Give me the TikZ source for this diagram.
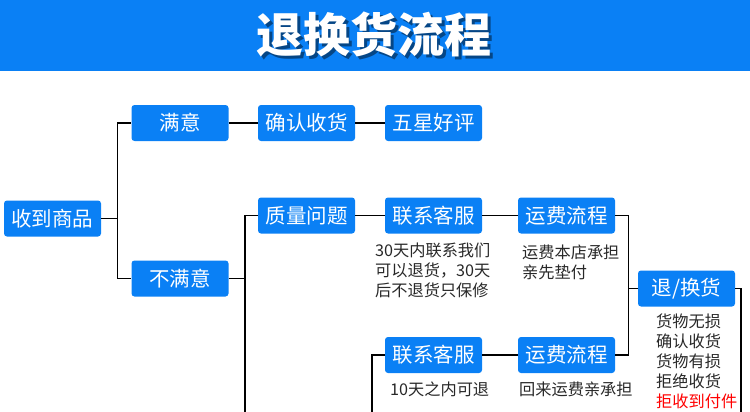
\documentclass[tikz,border=0pt]{standalone}
\usepackage{fontspec}
\newfontfamily\cjk{Noto Sans CJK SC}
\usetikzlibrary{positioning}
\definecolor{flowblue}{RGB}{10,128,245}
\definecolor{notegray}{RGB}{40,40,40}
\tikzset{
	stepnode/.style = {shape=rectangle, rounded corners=3pt,
		fill=flowblue, text=white,
		minimum width=97pt, minimum height=36pt,
		inner sep=0pt, font=\cjk\fontsize{20.5}{20.5}\selectfont},
	note/.style     = {anchor=north west, align=left, inner sep=0pt,
		text=notegray, font=\cjk\fontsize{16.2}{20}\selectfont},
	link/.style     = {draw=black, line width=1.3pt},
	title/.style    = {inner sep=0pt, font=\cjk\bfseries\fontsize{47}{47}\selectfont}
}

\begin{document}
\begin{tikzpicture}[x=1pt,y=-1pt]
	\useasboundingbox (0,0) rectangle (750,412);
	% header
	\fill[flowblue] (0,0) rectangle (750,71);
	\node[title, text=black, opacity=0.45] (titleshadow) at (376.5,37) {退换货流程};
	\node[title, text=white] (titletext) at (374,34) {退换货流程};

	% steps
	\node[stepnode] (recv)    at (52.5,218.5) {收到商品};
	\node[stepnode] (sat)     at (180,123)    {满意};
	\node[stepnode] (unsat)   at (180,278.5)  {不满意};
	\node[stepnode] (confirm) at (306.5,123)  {确认收货};
	\node[stepnode] (praise)  at (433.5,123)  {五星好评};
	\node[stepnode] (quality) at (306.5,215.5) {质量问题};
	\node[stepnode] (csone)   at (433.5,215.5) {联系客服};
	\node[stepnode] (feeone)  at (566.5,215.5) {运费流程};
	\node[stepnode] (ret)     at (686.5,288.5) {退/换货};
	\node[stepnode] (cstwo)   at (433.5,355)  {联系客服};
	\node[stepnode] (feetwo)  at (566.5,355)  {运费流程};

	% notes
	\node[note] (noteone)   at (375,242.5) {30天内联系我们\\可以退货，30天\\后不退货只保修};
	\node[note] (notetwo)   at (522,244.5) {运费本店承担\\亲先垫付};
	\node[note] (noteret)   at (656,313.5) {货物无损\\确认收货\\货物有损\\拒绝收货\\{\color{red}拒收到付件}};
	\node[note] (notethree) at (390,381.5) {10天之内可退};
	\node[note] (notefour)  at (519,381.5) {回来运费亲承担};

	% free ends at the bottom
	\coordinate (trunkend) at (245,414);
	\coordinate (csend)    at (372,414);
	\coordinate (retend)   at (741,414);

	% connectors
	\draw[link] (recv.east) -- ++(16,0) coordinate (jrecv);
	\draw[link] (jrecv) |- (sat.west);
	\draw[link] (jrecv) |- (unsat.west);
	\draw[link] (sat) -- (confirm) -- (praise);
	\draw[link] (unsat.east) -- (unsat.east -| trunkend);
	\draw[link] (quality.west) -| (trunkend);
	\draw[link] (quality) -- (csone) -- (feeone);
	\draw[link] (feeone.east) -- ++(13,0) coordinate (jfee) |- (feetwo.east);
	\draw[link] (ret.west -| jfee) -- (ret.west);
	\draw[link] (cstwo) -- (feetwo);
	\draw[link] (cstwo.west) -| (csend);
	\draw[link] (ret.east) -| (retend);
\end{tikzpicture}
\end{document}
